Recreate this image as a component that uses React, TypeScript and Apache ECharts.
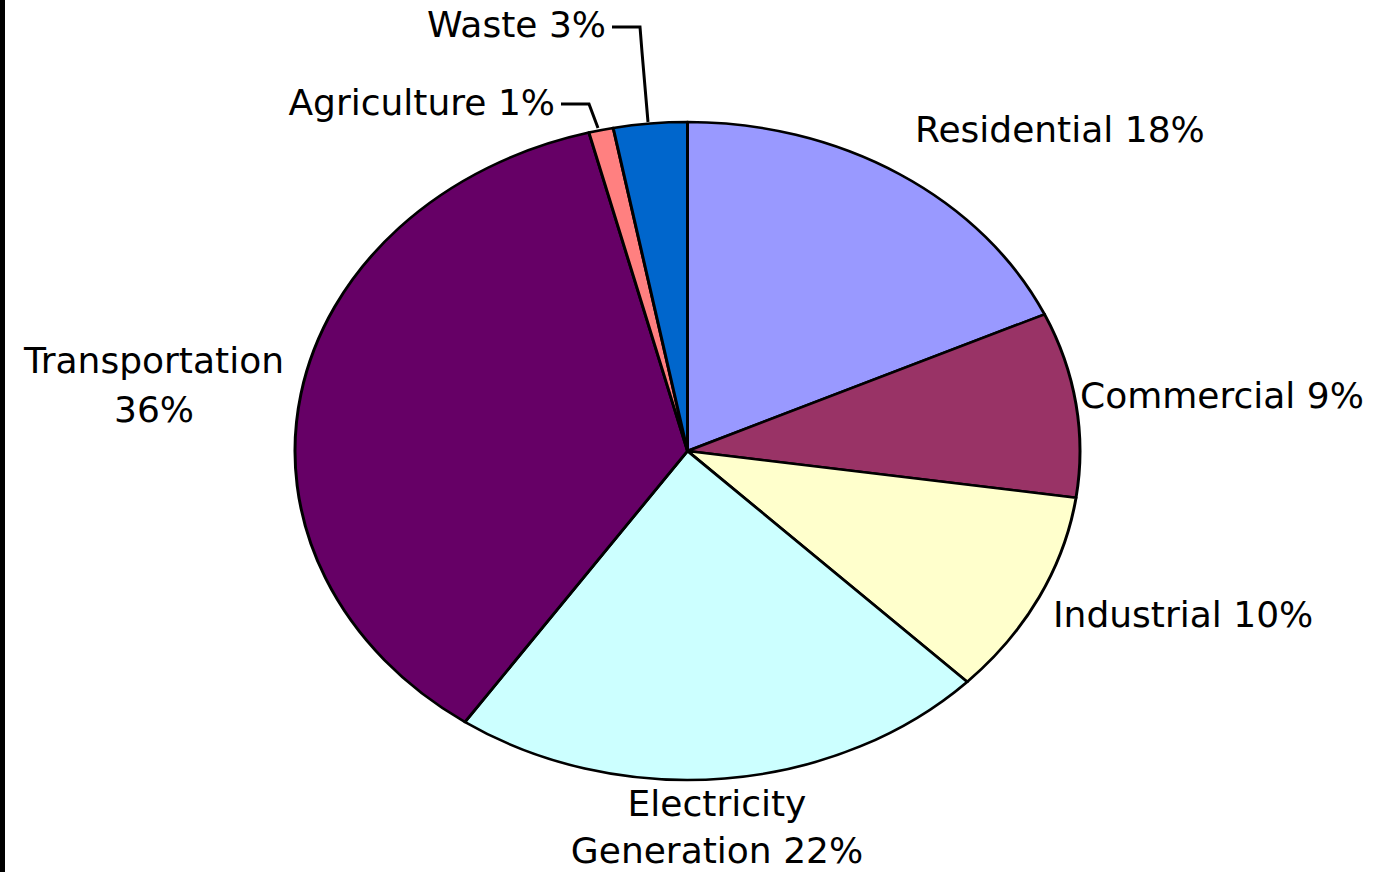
import React, { useEffect, useRef } from 'react';
import * as echarts from 'echarts';

// ---- data ----
const categories = ['Residential', 'Commercial', 'Industrial', 'Electricity Generation', 'Transportation', 'Agriculture', 'Waste'];
const values = [18, 9, 10, 22, 36, 1, 3];
const colors = ['#9999FF', '#993366', '#FFFFCC', '#CCFFFF', '#660066', '#FF8080', '#0066CC'];

// ---- layout ----
const W = 1373;
const H = 872;
const CX = 687.5;
const CY = 451;
const RY = 329;
const RX = 392.5;
const SX = RX / RY;
const FONT = '"DejaVu Sans", Verdana, sans-serif';
const FS = 36;

type Place = { x: number; base: number; align: 'left' | 'center' | 'right'; split?: 'word' | 'name'; lh?: number };
const places: Place[] = [
  { x: 915, base: 142, align: 'left' },
  { x: 1080, base: 408, align: 'left' },
  { x: 1053, base: 627, align: 'left' },
  { x: 717, base: 816, align: 'center', split: 'word', lh: 47 },
  { x: 154, base: 373, align: 'center', split: 'name', lh: 49 },
  { x: 555, base: 115, align: 'right' },
  { x: 606, base: 37, align: 'right' },
];

const leaders: Record<number, number[][]> = {
  5: [[561, 104], [589, 104], [598, 128]],
  6: [[612, 27], [640, 27], [642, 52], [648, 122]],
};

function labelLines(i: number): string[] {
  const name = categories[i];
  const pct = `${values[i]}%`;
  const p = places[i];
  if (p.split === 'word') {
    const sp = name.indexOf(' ');
    return [name.slice(0, sp), `${name.slice(sp + 1)} ${pct}`];
  }
  if (p.split === 'name') return [name, pct];
  return [`${name} ${pct}`];
}

export default function App() {
  const pieRef = useRef<HTMLDivElement>(null);
  const labRef = useRef<HTMLDivElement>(null);

  useEffect(() => {
    document.body.style.margin = '0';
    const pie = echarts.init(pieRef.current!, undefined, { renderer: 'svg' });
    pie.setOption({
      animation: false,
      series: [
        {
          type: 'pie',
          center: [CX, CY],
          radius: RY,
          startAngle: 90,
          clockwise: true,
          silent: true,
          label: { show: false },
          labelLine: { show: false },
          emphasis: { disabled: true },
          itemStyle: { borderColor: '#000', borderWidth: 2.5 },
          data: categories.map((n, i) => ({ name: n, value: values[i], itemStyle: { color: colors[i] } })),
        },
      ],
    });

    const lab = echarts.init(labRef.current!, undefined, { renderer: 'svg' });
    const elements: any[] = [
      { type: 'rect', shape: { x: 0, y: 0, width: 5, height: H }, style: { fill: '#000' }, silent: true },
    ];
    categories.forEach((_, i) => {
      const p = places[i];
      labelLines(i).forEach((t, k) => {
        elements.push({
          type: 'text',
          x: p.x,
          y: p.base + k * (p.lh || 0) - 12.5,
          silent: true,
          style: {
            text: t,
            fontSize: FS,
            fontFamily: FONT,
            fill: '#000',
            align: p.align,
            verticalAlign: 'middle',
          },
        });
      });
      if (leaders[i]) {
        elements.push({
          type: 'polyline',
          silent: true,
          shape: { points: leaders[i] },
          style: { stroke: '#000', lineWidth: 3, fill: 'none' },
        });
      }
    });
    lab.setOption({ animation: false, graphic: { elements } });

    return () => {
      pie.dispose();
      lab.dispose();
    };
  }, []);

  return (
    <div style={{ position: 'relative', width: W, height: H, overflow: 'hidden', background: '#fff' }}>
      <div
        ref={pieRef}
        style={{
          position: 'absolute',
          left: 0,
          top: 0,
          width: W,
          height: H,
          transform: `scaleX(${SX})`,
          transformOrigin: `${CX}px ${CY}px`,
        }}
      />
      <div ref={labRef} style={{ position: 'absolute', left: 0, top: 0, width: W, height: H }} />
    </div>
  );
}
